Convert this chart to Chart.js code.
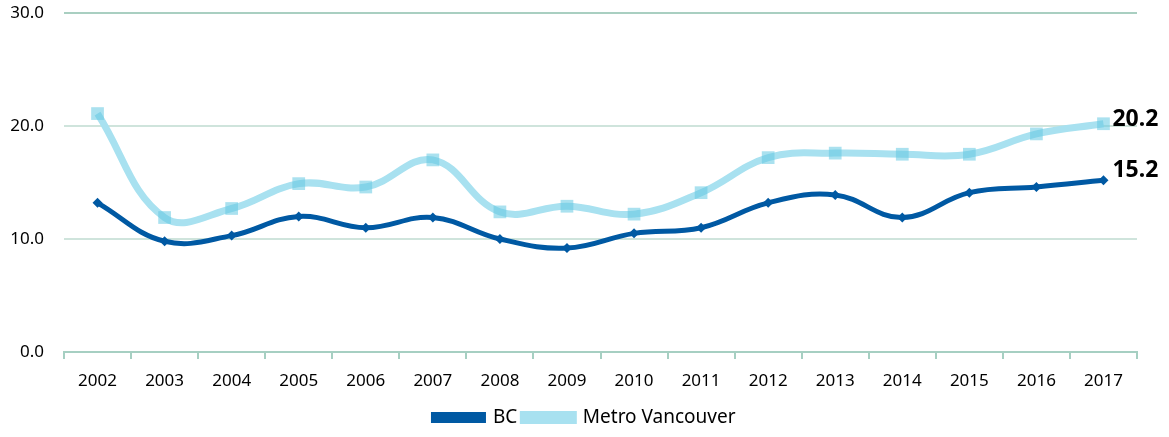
<!DOCTYPE html>
<html>
<head>
<meta charset="utf-8">
<script src="https://cdn.jsdelivr.net/npm/chart.js@4/dist/chart.umd.min.js"></script>
<style>
html,body{margin:0;padding:0;background:#fff;}
#wrap{width:1169px;height:437px;position:relative;}
</style>
</head>
<body>
<div id="wrap"><canvas id="c" width="1169" height="437"></canvas></div>
<script>
const years = ['2002','2003','2004','2005','2006','2007','2008','2009','2010','2011','2012','2013','2014','2015','2016','2017'];
const bcValues = [13.2, 9.8, 10.3, 12.0, 11.0, 11.9, 10.0, 9.2, 10.5, 11.0, 13.2, 13.9, 11.9, 14.1, 14.6, 15.2];
const metroValues = [21.1, 11.9, 12.7, 14.9, 14.6, 17.0, 12.4, 12.9, 12.2, 14.1, 17.2, 17.6, 17.5, 17.5, 19.3, 20.2];
const seriesNames = ['BC', 'Metro Vancouver'];
const yTicks = [0, 10, 20, 30];

const FONT = "'Noto Sans',sans-serif";
const labelDy = [-10, -4];

const endLabels = {
  id: 'endLabels',
  afterDatasetsDraw(chart) {
    const ctx = chart.ctx;
    ctx.save();
    ctx.font = "bold 23px " + FONT;
    ctx.fillStyle = '#000';
    ctx.textBaseline = 'middle';
    ctx.textAlign = 'left';
    chart.data.datasets.forEach((ds, i) => {
      const meta = chart.getDatasetMeta(i);
      const last = meta.data[meta.data.length - 1];
      const v = ds.data[ds.data.length - 1];
      ctx.fillText(v.toFixed(1), last.x + 9, last.y + labelDy[i]);
    });
    ctx.restore();
  }
};

new Chart(document.getElementById('c'), {
  type: 'line',
  data: {
    labels: years,
    datasets: [
      {
        label: seriesNames[0],
        data: bcValues,
        borderColor: '#0059a3',
        backgroundColor: '#0059a3',
        borderWidth: 5,
        tension: 0.4,
        pointStyle: 'rectRot',
        pointRadius: 5,
        pointBorderWidth: 0,
        pointBackgroundColor: '#0059a3'
      },
      {
        label: seriesNames[1],
        data: metroValues,
        borderColor: '#a8e1f0',
        backgroundColor: '#a8e1f0',
        borderWidth: 7,
        tension: 0.4,
        pointStyle: 'rect',
        pointRadius: 9,
        pointBorderWidth: 0,
        pointBackgroundColor: 'rgba(100,200,226,0.55)'
      }
    ]
  },
  options: {
    responsive: false,
    animation: false,
    layout: { padding: { left: 0, right: 0, top: 13, bottom: 0 } },
    plugins: {
      legend: {
        position: 'bottom',
        labels: {
          font: { family: FONT, size: 19 },
          color: '#000',
          boxWidth: 50,
          boxHeight: 6,
          padding: 6
        }
      },
      tooltip: { enabled: false }
    },
    scales: {
      x: {
        offset: true,
        afterFit(axis) { axis.paddingRight = 32; axis.height = 50; },
        grid: {
          offset: true,
          drawOnChartArea: false,
          drawTicks: true,
          tickLength: 7,
          color: '#a6cfc2',
          lineWidth: 2
        },
        border: { display: true, color: '#a6cfc2', width: 2 },
        ticks: { font: { family: FONT, size: 17 }, color: '#000', padding: 12 }
      },
      y: {
        min: 0,
        max: 30,
        afterBuildTicks(axis) { axis.ticks = yTicks.map(v => ({ value: v })); },
        afterFit(axis) { axis.width = 64; axis.paddingTop = 0; axis.paddingBottom = 0; },
        grid: {
          drawTicks: false,
          color: (c) => c.tick.value === 30 ? '#a9cfc1' : (c.tick.value === 0 ? 'rgba(0,0,0,0)' : '#cfe4dc'),
          lineWidth: 2
        },
        border: { display: false },
        ticks: {
          font: { family: FONT, size: 17 },
          color: '#000',
          padding: 20,
          callback: (v) => Number(v).toFixed(1)
        }
      }
    }
  },
  plugins: [endLabels]
});
</script>
</body>
</html>
